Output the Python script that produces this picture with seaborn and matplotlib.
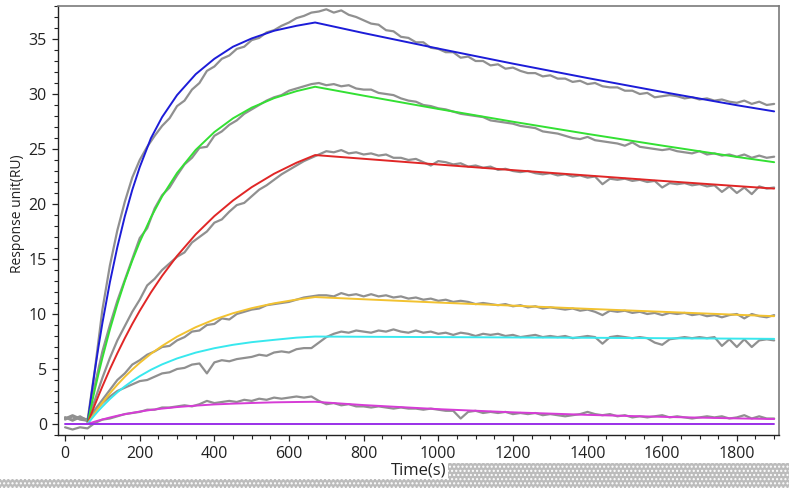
import numpy as np
import matplotlib
matplotlib.use("Agg")
import matplotlib.pyplot as plt
import seaborn as sns
from matplotlib.ticker import MultipleLocator
from matplotlib.patches import Rectangle

# ---------------- data ----------------
# measured (gray) sensorgram samples, every 20 s from 0 to 1900 s
data_time = np.arange(0, 1901, 20)

gray_blue = [0.5, 0.7, 0.4, 0.3, 5.0, 10.4, 14.4, 17.6, 20.2, 22.4,
             24.0, 25.2, 26.2, 27.1, 27.8, 28.9, 29.4, 30.4, 31.0, 32.1,
             32.5, 33.2, 33.5, 34.1, 34.3, 34.9, 35.1, 35.6, 35.8, 36.2,
             36.5, 36.9, 37.1, 37.4, 37.5, 37.7, 37.4, 37.6, 37.2, 37.0,
             36.7, 36.4, 36.3, 35.8, 35.7, 35.2, 35.1, 34.7, 34.7, 34.2,
             34.1, 33.8, 33.8, 33.3, 33.4, 33.0, 33.0, 32.6, 32.7, 32.3,
             32.4, 32.1, 31.9, 31.9, 31.6, 31.7, 31.4, 31.4, 31.1, 31.2,
             30.9, 31.0, 30.7, 30.6, 30.6, 30.3, 30.3, 30.0, 30.1, 29.7,
             29.8, 29.9, 29.8, 29.6, 29.7, 29.5, 29.6, 29.4, 29.5, 29.3,
             29.2, 29.4, 29.1, 29.3, 29.0, 29.1]

gray_green = [0.6, 0.4, 0.7, 0.3, 3.6, 6.6, 9.0, 11.2, 13.1, 15.0,
              16.9, 17.8, 19.6, 20.8, 21.5, 22.6, 23.6, 24.2, 25.1, 25.2,
              26.2, 26.6, 27.2, 27.6, 28.2, 28.6, 29.0, 29.4, 29.7, 29.9,
              30.3, 30.5, 30.7, 30.9, 31.0, 30.8, 30.9, 30.7, 30.8, 30.5,
              30.4, 30.4, 30.1, 30.0, 29.9, 29.6, 29.4, 29.3, 29.0, 28.9,
              28.7, 28.6, 28.4, 28.2, 28.1, 28.0, 27.9, 27.6, 27.5, 27.4,
              27.3, 27.1, 27.0, 26.9, 26.6, 26.5, 26.4, 26.2, 26.0, 25.9,
              26.1, 25.8, 25.7, 25.6, 25.5, 25.3, 25.6, 25.2, 25.1, 25.0,
              24.9, 25.0, 24.8, 24.7, 24.6, 24.8, 24.5, 24.6, 24.4, 24.5,
              24.3, 24.5, 24.2, 24.4, 24.2, 24.3]

gray_red = [0.4, 0.7, 0.5, 0.4, 2.2, 4.2, 6.0, 7.6, 8.9, 10.2,
            11.3, 12.6, 13.2, 14.0, 14.6, 15.2, 15.6, 16.5, 17.0, 17.5,
            18.3, 18.6, 19.3, 19.9, 20.1, 20.7, 21.3, 21.7, 22.2, 22.7,
            23.1, 23.5, 23.9, 24.2, 24.5, 24.8, 24.7, 24.9, 24.6, 24.7,
            24.5, 24.6, 24.4, 24.5, 24.2, 24.2, 24.0, 24.1, 23.8, 23.5,
            23.9, 23.8, 23.6, 23.7, 23.4, 23.5, 23.3, 23.4, 23.1, 23.2,
            23.0, 22.9, 23.0, 22.8, 22.7, 22.8, 22.6, 22.7, 22.5, 22.6,
            22.4, 22.5, 21.8, 22.3, 22.2, 22.3, 22.1, 22.2, 22.0, 22.1,
            21.5, 21.9, 21.8, 21.9, 21.7, 21.8, 21.6, 21.7, 21.1, 21.6,
            21.0, 21.5, 20.9, 21.6, 21.4, 21.5]

gray_yellow = [0.5, 0.8, 0.5, 0.3, 1.3, 2.2, 3.1, 4.0, 4.6, 5.4,
               5.8, 6.3, 6.6, 7.0, 7.1, 7.6, 7.9, 8.4, 8.5, 9.0,
               9.1, 9.6, 9.5, 10.0, 10.2, 10.4, 10.5, 10.8, 10.9, 11.0,
               11.1, 11.3, 11.5, 11.6, 11.7, 11.7, 11.6, 11.9, 11.7, 11.8,
               11.6, 11.8, 11.6, 11.7, 11.5, 11.6, 11.4, 11.5, 11.3, 11.4,
               11.2, 11.3, 11.1, 11.2, 11.1, 10.9, 11.0, 10.9, 10.8, 10.9,
               10.7, 10.8, 10.6, 10.7, 10.5, 10.6, 10.5, 10.4, 10.5, 10.3,
               10.4, 10.2, 9.9, 10.3, 10.2, 10.3, 10.1, 10.2, 10.0, 10.1,
               9.9, 10.1, 10.0, 10.1, 9.9, 10.0, 9.8, 9.9, 9.7, 9.9,
               10.0, 9.6, 10.0, 9.8, 9.7, 9.9]

gray_cyan = [0.6, 0.3, 0.6, 0.4, 1.2, 1.9, 2.5, 3.0, 3.3, 3.6,
             3.9, 4.0, 4.3, 4.6, 4.7, 5.0, 5.1, 5.4, 5.5, 4.6,
             5.6, 5.8, 5.7, 5.9, 6.0, 6.1, 6.3, 6.2, 6.5, 6.6,
             6.5, 6.8, 6.9, 6.9, 7.4, 7.9, 8.2, 8.4, 8.3, 8.5,
             8.4, 8.3, 8.5, 8.4, 8.6, 8.4, 8.3, 8.5, 8.3, 8.4,
             8.2, 8.3, 8.1, 8.3, 8.2, 8.0, 8.2, 8.1, 8.2, 8.0,
             8.1, 7.9, 8.0, 8.1, 7.9, 8.0, 7.9, 8.0, 7.8, 7.9,
             8.0, 7.9, 7.3, 7.9, 8.0, 7.9, 7.8, 7.9, 7.8, 7.4,
             7.2, 7.7, 7.8, 7.9, 7.8, 7.9, 7.8, 7.9, 7.1, 7.7,
             7.0, 7.7, 7.0, 7.6, 7.7, 7.6]

gray_magenta = [-0.3, -0.5, -0.3, -0.4, 0.1, 0.4, 0.5, 0.7, 0.9, 1.0,
                1.1, 1.3, 1.3, 1.5, 1.5, 1.6, 1.7, 1.6, 1.8, 2.1,
                1.9, 2.0, 2.1, 2.0, 2.2, 2.1, 2.3, 2.2, 2.4, 2.3,
                2.4, 2.5, 2.4, 2.5, 2.1, 1.8, 1.9, 1.7, 1.8, 1.6,
                1.6, 1.5, 1.6, 1.5, 1.4, 1.5, 1.4, 1.4, 1.3, 1.4,
                1.3, 1.2, 1.2, 0.5, 1.1, 1.2, 1.0, 1.1, 1.0, 1.1,
                0.9, 1.0, 0.9, 1.0, 0.8, 0.9, 0.8, 0.7, 0.8, 0.9,
                1.1, 0.9, 0.8, 0.9, 0.7, 0.8, 0.6, 0.7, 0.6, 0.7,
                0.8, 0.6, 0.7, 0.6, 0.5, 0.6, 0.7, 0.6, 0.7, 0.5,
                0.6, 0.8, 0.5, 0.7, 0.5, 0.5]

# fitted curves
fit_time = [60, 70, 80, 90, 100, 120, 140, 160, 180, 200, 230, 260, 300, 350,
            400, 450, 500, 560, 620, 670, 800, 1000, 1200, 1400, 1600, 1800, 1900]

fit_blue = [0, 2.55, 4.92, 7.13, 9.18, 12.88, 16.08, 18.87, 21.28, 23.35, 25.98,
            27.9, 29.9, 31.8, 33.2, 34.3, 35.05, 35.75, 36.2, 36.5,
            35.54, 34.13, 32.76, 31.45, 30.19, 28.98, 28.42]
fit_green = [0, 1.62, 3.17, 4.62, 6.01, 8.58, 10.89, 12.98, 14.85, 16.55, 18.78,
             20.69, 22.82, 24.92, 26.54, 27.79, 28.76, 29.62, 30.26, 30.66,
             29.85, 28.64, 27.48, 26.37, 25.31, 24.28, 23.8]
fit_red = [0, 0.90, 1.77, 2.61, 3.42, 4.98, 6.43, 7.80, 9.09, 10.29, 11.96,
           13.47, 15.28, 17.24, 18.90, 20.32, 21.53, 22.75, 23.75, 24.45,
           24.11, 23.59, 23.08, 22.59, 22.10, 21.63, 21.4]
fit_yellow = [0, 0.51, 1.01, 1.48, 1.93, 2.79, 3.57, 4.29, 4.95, 5.56, 6.38,
              7.10, 7.94, 8.80, 9.50, 10.07, 10.53, 10.97, 11.31, 11.54,
              11.34, 11.04, 10.76, 10.47, 10.20, 9.93, 9.8]
fit_cyan = [0, 0.43, 0.84, 1.23, 1.59, 2.27, 2.88, 3.42, 3.91, 4.35, 4.93,
            5.42, 5.96, 6.49, 6.89, 7.20, 7.44, 7.65, 7.85, 7.95,
            7.93, 7.90, 7.87, 7.84, 7.80, 7.76, 7.74]
fit_magenta = [0, 0.11, 0.22, 0.32, 0.41, 0.59, 0.75, 0.89, 1.01, 1.13, 1.28,
               1.40, 1.54, 1.67, 1.78, 1.85, 1.91, 1.97, 2.00, 2.02,
               1.72, 1.35, 1.06, 0.83, 0.65, 0.51, 0.45]
zero_time = [0, 1900]
fit_zero = [0, 0]

x_ticks = [0, 200, 400, 600, 800, 1000, 1200, 1400, 1600, 1800]
y_ticks = [0, 5, 10, 15, 20, 25, 30, 35]

# ---------------- style ----------------
sns.set_style("white")
plt.rcParams['font.family'] = ['Open Sans', 'DejaVu Sans']
plt.rcParams['hatch.color'] = 'white'
plt.rcParams['hatch.linewidth'] = 1.0

fig = plt.figure(figsize=(7.89, 4.88), dpi=100)
ax = fig.add_axes([58 / 789, 53 / 488, 721 / 789, 429 / 488])

gray = '#909090'
for g in [gray_blue, gray_green, gray_red, gray_yellow, gray_cyan, gray_magenta]:
    sns.lineplot(x=data_time, y=g, ax=ax, color=gray, linewidth=1.6, estimator=None)

fits = [(fit_time, fit_blue, '#1c1cd8'),
        (fit_time, fit_green, '#33e033'),
        (fit_time, fit_red, '#e02626'),
        (fit_time, fit_yellow, '#f2c230'),
        (fit_time, fit_cyan, '#38e8ee'),
        (fit_time, fit_magenta, '#d63cd6'),
        (zero_time, fit_zero, '#9a30e8')]
for tt, vv, c in fits:
    sns.lineplot(x=tt, y=vv, ax=ax, color=c, linewidth=1.4, estimator=None)

ax.set_xlim(-19, 1913)
ax.set_ylim(-1, 38)
ax.set_xticks(x_ticks)
ax.set_yticks(y_ticks)
ax.xaxis.set_minor_locator(MultipleLocator(50))
ax.yaxis.set_minor_locator(MultipleLocator(1))
ax.tick_params(which='both', direction='out', bottom=True, left=True,
               top=False, right=False, colors='#222222', labelsize=11.5)
ax.tick_params(which='major', length=4, width=0.9, pad=4)
ax.tick_params(which='minor', length=2.8, width=0.8)

for s in ['left', 'bottom']:
    ax.spines[s].set_color('#222222')
    ax.spines[s].set_linewidth(1.0)
for s in ['top', 'right']:
    ax.spines[s].set_color('#7a7a7a')
    ax.spines[s].set_linewidth(1.2)

ax.set_xlabel('Time(s)', fontsize=12, color='#222222')
ax.xaxis.set_label_coords(0.5007, -0.064)
ax.set_ylabel('Response unit(RU)', fontsize=10, color='#222222')
ax.yaxis.set_label_coords(-0.046, 0.516)

# dotted band at the bottom of the picture
fig.patches.append(Rectangle((0, 0), 448 / 789, 9 / 488, transform=fig.transFigure,
                             facecolor='#bcbcbc', edgecolor='white', hatch='....',
                             linewidth=0, zorder=0))
fig.patches.append(Rectangle((448 / 789, 0), 341 / 789, 25 / 488, transform=fig.transFigure,
                             facecolor='#bcbcbc', edgecolor='white', hatch='....',
                             linewidth=0, zorder=0))

fig.savefig('out.png', dpi=100)
